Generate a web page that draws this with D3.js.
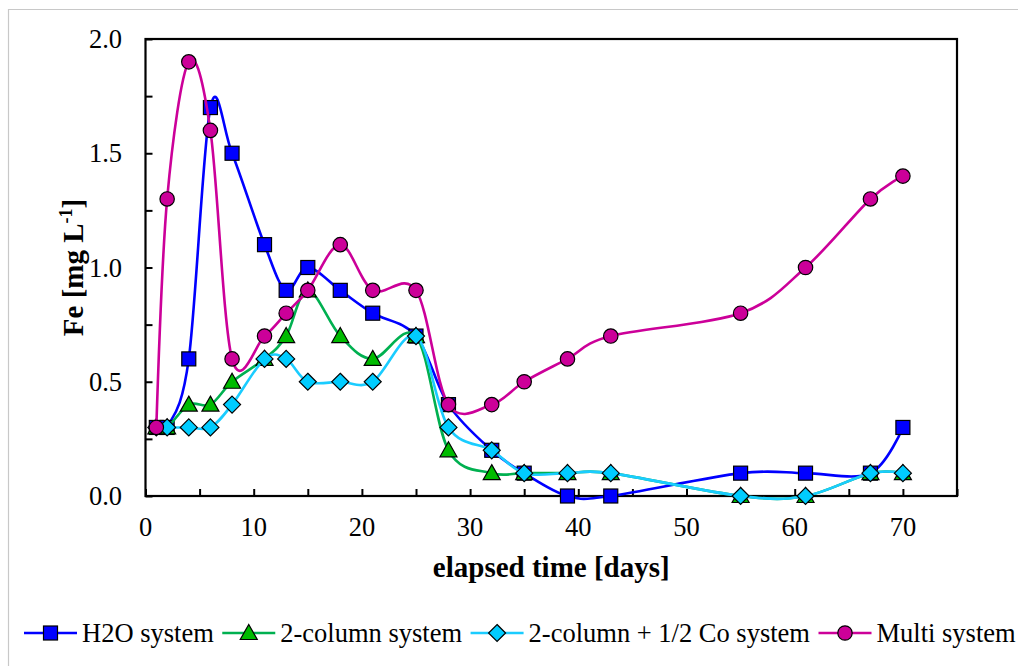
<!DOCTYPE html>
<html><head><meta charset="utf-8">
<script src="https://cdn.jsdelivr.net/npm/d3@7"></script>
<style>body{margin:0;background:#fff}svg{display:block}</style>
</head><body>
<svg id="c" width="1018" height="666"></svg>
<script>
const days = [1,2,4,6,8,11,13,15,18,21,25,28,32,35,39,43,55,61,67,70];
const h2o     = [0.3,0.3,0.6,1.7,1.5,1.1,0.9,1.0,0.9,0.8,0.7,0.4,0.2,0.1,0.0,0.0,0.1,0.1,0.1,0.3];
const twoCol  = [0.3,0.3,0.4,0.4,0.5,0.6,0.7,0.9,0.7,0.6,0.7,0.2,0.1,0.1,0.1,0.1,0.0,0.0,0.1,0.1];
const twoCoCo = [0.3,0.3,0.3,0.3,0.4,0.6,0.6,0.5,0.5,0.5,0.7,0.3,0.2,0.1,0.1,0.1,0.0,0.0,0.1,0.1];
const multi   = [0.3,1.3,1.9,1.6,0.6,0.7,0.8,0.9,1.1,0.9,0.9,0.4,0.4,0.5,0.6,0.7,0.8,1.0,1.3,1.4];
const seriesNames = ["H2O system","2-column system","2-column + 1/2 Co system","Multi system"];
const xTickLabels = [0,10,20,30,40,50,60,70];
const yTickLabels = [0,0.5,1.0,1.5,2.0];

const series = [
  {name: seriesNames[0], values: h2o,     line:"#0000FF", fill:"#0000FF", sym:"square"},
  {name: seriesNames[1], values: twoCol,  line:"#00B050", fill:"#00BB00", sym:"triangle"},
  {name: seriesNames[2], values: twoCoCo, line:"#1ACCFF", fill:"#00CCFF", sym:"diamond"},
  {name: seriesNames[3], values: multi,   line:"#CC0099", fill:"#CC0099", sym:"circle"}
];

const svg = d3.select("#c");
const font = "'Liberation Serif','Times New Roman',serif";
const L = 145.5, R = 957, T = 39, B = 496;
const x = d3.scaleLinear().domain([0,75]).range([L,R]);
const y = d3.scaleLinear().domain([0,2]).range([B,T]);

// outer frame
svg.append("path").attr("d","M8.5,666 V9.5 H1018").attr("fill","none").attr("stroke","#c8c8c8").attr("stroke-width",1.2);

// axes with inside ticks
const gx = svg.append("g").attr("transform",`translate(0,${B})`)
  .call(d3.axisBottom(x).tickValues(d3.range(0,76,5)).tickSizeInner(-7).tickSizeOuter(0).tickFormat(""));
const gy = svg.append("g").attr("transform",`translate(${L},0)`)
  .call(d3.axisLeft(y).tickValues(d3.range(0,2.01,0.25)).tickSizeInner(-7).tickSizeOuter(0).tickFormat(""));
[gx,gy].forEach(g=>{g.select(".domain").remove(); g.selectAll("line").attr("stroke","#000").attr("stroke-width",2);});

svg.append("rect").attr("x",L).attr("y",T).attr("width",R-L).attr("height",B-T)
  .attr("fill","none").attr("stroke","#000").attr("stroke-width",2.2);

// tick labels
svg.append("g").selectAll("text").data(xTickLabels).join("text")
  .attr("x",d=>x(d)).attr("y",536).attr("text-anchor","middle")
  .attr("font-family",font).attr("font-size",26.5).text(d=>d);
svg.append("g").selectAll("text").data(yTickLabels).join("text")
  .attr("x",122).attr("y",d=>y(d)+9).attr("text-anchor","end")
  .attr("font-family",font).attr("font-size",26.5).text(d=>d.toFixed(1));

// axis titles
svg.append("text").attr("x",(L+R)/2).attr("y",577).attr("text-anchor","middle")
  .attr("font-family",font).attr("font-size",29).attr("font-weight","bold").text("elapsed time [days]");
const yt = svg.append("text").attr("transform",`translate(82.5,${(T+B)/2}) rotate(-90)`).attr("text-anchor","middle")
  .attr("font-family",font).attr("font-size",29).attr("font-weight","bold");
yt.append("tspan").text("Fe [mg L");
yt.append("tspan").attr("dy",-11).attr("font-size",18).text("-1");
yt.append("tspan").attr("dy",11).text("]");

// symbols
function drawSym(g, s, cx, cy){
  const st = {fill:s.fill, stroke:"#000", "stroke-width":1.2};
  let el;
  if (s.sym==="square") el = g.append("rect").attr("x",cx-7).attr("y",cy-7).attr("width",14).attr("height",14);
  else if (s.sym==="circle") el = g.append("circle").attr("cx",cx).attr("cy",cy).attr("r",7.2);
  else if (s.sym==="triangle") el = g.append("path").attr("d",`M${cx},${cy-8.5} L${cx+8.5},${cy+6.5} L${cx-8.5},${cy+6.5} Z`);
  else el = g.append("path").attr("d",`M${cx},${cy-8.5} L${cx+8.5},${cy} L${cx},${cy+8.5} L${cx-8.5},${cy} Z`);
  for (const k in st) el.attr(k, st[k]);
}

const line = d3.line().x(d=>x(d[0])).y(d=>y(d[1])).curve(d3.curveCardinal.tension(0));
series.forEach(s=>{
  const pts = days.map((d,i)=>[d, s.values[i]]);
  const g = svg.append("g");
  g.append("path").attr("d", line(pts)).attr("fill","none").attr("stroke",s.line).attr("stroke-width",2.6);
  pts.forEach(p=>drawSym(g, s, x(p[0]), y(p[1])));
});

// legend
let lx = 24;
const ly = 633;
series.forEach(s=>{
  const g = svg.append("g");
  g.append("line").attr("x1",lx).attr("x2",lx+53).attr("y1",ly).attr("y2",ly).attr("stroke",s.line).attr("stroke-width",2.6);
  drawSym(g, s, lx+26.5, ly);
  const t = g.append("text").attr("x",lx+58).attr("y",642).attr("font-family",font).attr("font-size",26.5).text(s.name);
  lx = lx + 58 + t.node().getComputedTextLength() + 8.5;
});
</script>
</body></html>
